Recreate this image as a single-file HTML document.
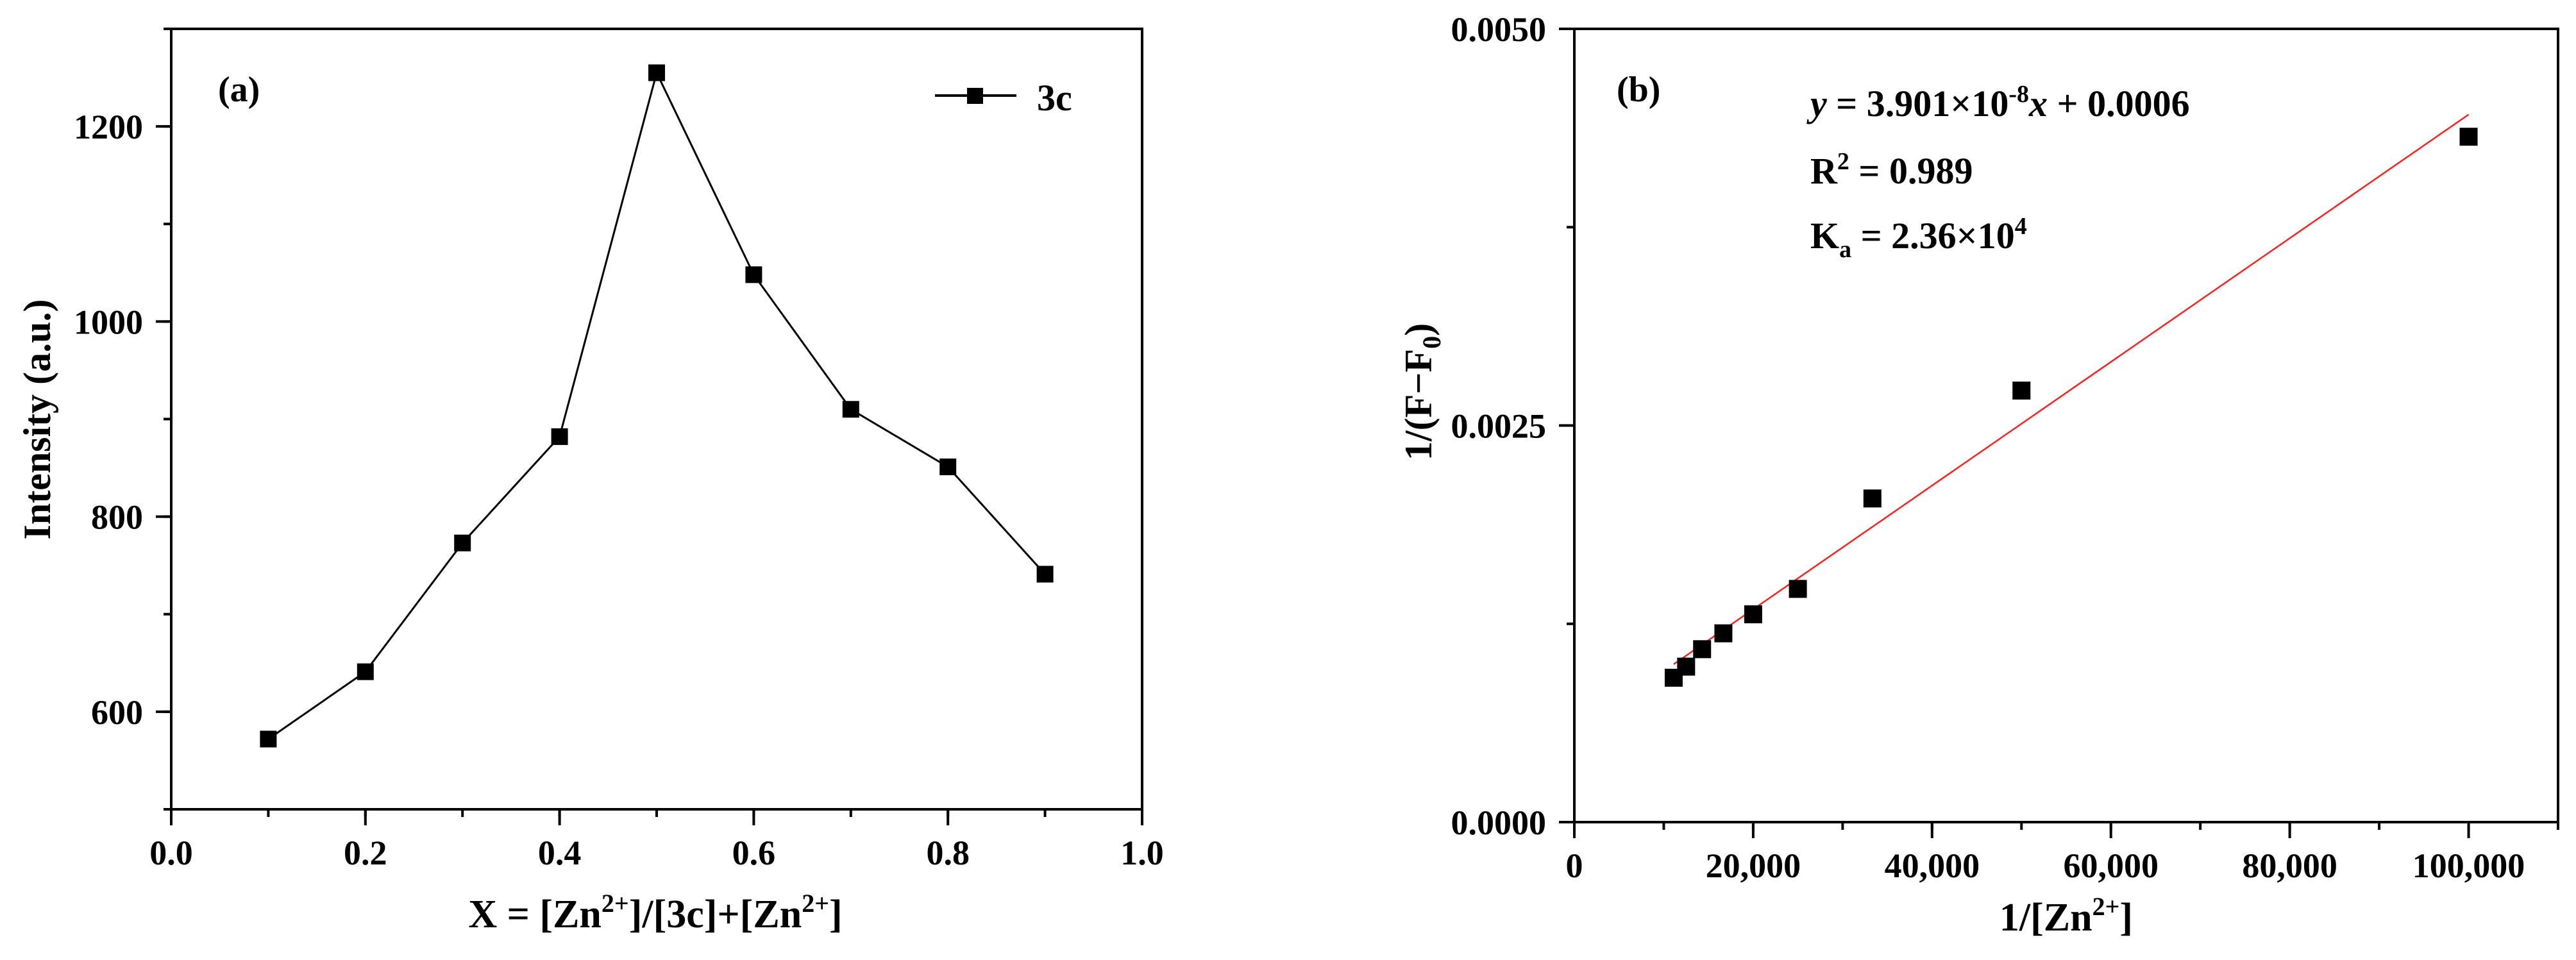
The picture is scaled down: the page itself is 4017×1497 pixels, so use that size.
<!DOCTYPE html>
<html><head><meta charset="utf-8"><style>
html,body{margin:0;padding:0;background:#fff;}
svg{display:block;}
text{font-family:"Liberation Serif",serif;font-weight:bold;fill:#000;}
</style></head><body>
<svg id="fig" width="4017" height="1497" viewBox="0 0 4017 1497" xmlns="http://www.w3.org/2000/svg">
<g id="pa"></g>
<g id="pb"></g>
</svg>
<script>
// Panel (a) data
const aX = [0.1,0.2,0.3,0.4,0.5,0.6,0.7,0.8,0.9];
const aY = [572,641,773,882,1255,1048,910,851,741];
const aXTicks = [0,0.2,0.4,0.6,0.8,1.0];
const aXTickLabels = ["0.0","0.2","0.4","0.6","0.8","1.0"];
const aYTicks = [600,800,1000,1200];
const aYTickLabels = ["600","800","1000","1200"];
// Panel (b) data
const bX = [11111,12500,14286,16667,20000,25000,33333,50000,100000];
const bY = [0.00091,0.00098,0.00109,0.00119,0.00131,0.00147,0.00204,0.00272,0.00432];
const bFit = [3.898e-8, 0.000562];
const bFitRange = [11111,100000];
const bXTicks = [0,20000,40000,60000,80000,100000];
const bXTickLabels = ["0","20,000","40,000","60,000","80,000","100,000"];
const bYTicks = [0,0.0025,0.005];
const bYTickLabels = ["0.0000","0.0025","0.0050"];

const NS="http://www.w3.org/2000/svg";
function mk(parent,tag,attrs,txt){const e=document.createElementNS(NS,tag);for(const k in attrs)e.setAttribute(k,attrs[k]);if(txt!==undefined)e.textContent=txt;parent.appendChild(e);return e;}

function axes(g,L,R,T,B,xmin,xmax,ymin,ymax,xt,xtl,xminor,yt,ytl,yminor){
  const sx=v=>L+(v-xmin)/(xmax-xmin)*(R-L);
  const sy=v=>B-(v-ymin)/(ymax-ymin)*(B-T);
  const fr=mk(g,'rect',{x:L,y:T,width:R-L,height:B-T,fill:'none',stroke:'#000','stroke-width':4});
  
  
  for(let v=xmin;v<=xmax+1e-9;v+=xminor){
    const l=mk(g,'line',{x1:sx(v),x2:sx(v),y1:B,y2:B+12,stroke:'#000','stroke-width':4});
    
    
  }
  for(let v=ymin;v<=ymax+1e-12;v+=yminor){
    const l=mk(g,'line',{x1:L-12,x2:L,y1:sy(v),y2:sy(v),stroke:'#000','stroke-width':4});
    
    
  }
  xt.forEach((v,i)=>{
    const l=mk(g,'line',{x1:sx(v),x2:sx(v),y1:B,y2:B+25,stroke:'#000','stroke-width':4});
    
    
    const t=mk(g,'text',{x:sx(v),y:B+86,'text-anchor':'middle','font-size':54},xtl[i]);
    
    
  });
  yt.forEach((v,i)=>{
    const l=mk(g,'line',{x1:L-24,x2:L,y1:sy(v),y2:sy(v),stroke:'#000','stroke-width':4});
    
    
    const t=mk(g,'text',{x:L-44,y:sy(v)+19,'text-anchor':'end','font-size':54},ytl[i]);
    
    
  });
  return [sx,sy];
}

// Panel A
const ga=document.getElementById('pa');
const [ax,ay]=axes(ga,267,1781,45,1262,0,1,500,1300,aXTicks,aXTickLabels,0.1,aYTicks,aYTickLabels,100);
const aline=mk(ga,'polyline',{points:aX.map((x,i)=>ax(x)+','+ay(aY[i])).join(' '),fill:'none',stroke:'#000','stroke-width':3});


aX.forEach((x,i)=>{
  const r=mk(ga,'rect',{x:ax(x)-13,y:ay(aY[i])-13,width:26,height:26,fill:'#000'});
  
  
});
const la=mk(ga,'text',{x:340,y:158,'font-size':56},'(a)');


const lg=mk(ga,'g',{});


mk(lg,'line',{x1:1458,x2:1585,y1:149,y2:149,stroke:'#000','stroke-width':4});
mk(lg,'rect',{x:1508,y:137,width:25,height:25,fill:'#000'});
mk(lg,'text',{x:1617,y:172,'font-size':58},'3c');
const ayt=mk(ga,'text',{x:0,y:0,'font-size':60,'text-anchor':'middle',transform:'translate(78,654) rotate(-90)'},'Intensity (a.u.)');


const axt=mk(ga,'text',{x:1022,y:1446,'font-size':62,'text-anchor':'middle'});


axt.innerHTML='X = [Zn<tspan dy="-24" font-size="40">2+</tspan><tspan dy="24">]/[3c]+[Zn</tspan><tspan dy="-24" font-size="40">2+</tspan><tspan dy="24">]</tspan>';

// Panel B
const gb=document.getElementById('pb');
const [bx,by]=axes(gb,2455,3989,45,1282,0,110000,0,0.005,bXTicks,bXTickLabels,10000,bYTicks,bYTickLabels,0.00125);
const fit=mk(gb,'line',{x1:bx(bFitRange[0]),y1:by(bFit[0]*bFitRange[0]+bFit[1]),x2:bx(bFitRange[1]),y2:by(bFit[0]*bFitRange[1]+bFit[1]),stroke:'#ff2020','stroke-width':2.5});


bX.forEach((x,i)=>{
  const r=mk(gb,'rect',{x:bx(x)-14,y:by(bY[i])-14,width:28,height:28,fill:'#000'});
  
  
});
const lb=mk(gb,'text',{x:2521,y:158,'font-size':56},'(b)');


const eq=mk(gb,'text',{x:2823,y:181,'font-size':58});


eq.innerHTML='<tspan font-style="italic">y</tspan> = 3.901×10<tspan dy="-22" font-size="38">-8</tspan><tspan dy="22" font-style="italic">x</tspan> + 0.0006';
const r2=mk(gb,'text',{x:2823,y:286,'font-size':58});


r2.innerHTML='R<tspan dy="-22" font-size="38">2</tspan><tspan dy="22"> = 0.989</tspan>';
const ka=mk(gb,'text',{x:2823,y:387,'font-size':58});


ka.innerHTML='K<tspan dy="14" font-size="38">a</tspan><tspan dy="-14"> = 2.36×10</tspan><tspan dy="-22" font-size="38">4</tspan>';
const byt=mk(gb,'text',{x:0,y:0,'font-size':60,'text-anchor':'middle',transform:'translate(2232,611) rotate(-90)'});


byt.innerHTML='1/(F−F<tspan dy="14" font-size="40">0</tspan><tspan dy="-14">)</tspan>';
const bxt=mk(gb,'text',{x:3222,y:1451,'font-size':62,'text-anchor':'middle'});


bxt.innerHTML='1/[Zn<tspan dy="-24" font-size="40">2+</tspan><tspan dy="24">]</tspan>';
</script>
</body></html>
